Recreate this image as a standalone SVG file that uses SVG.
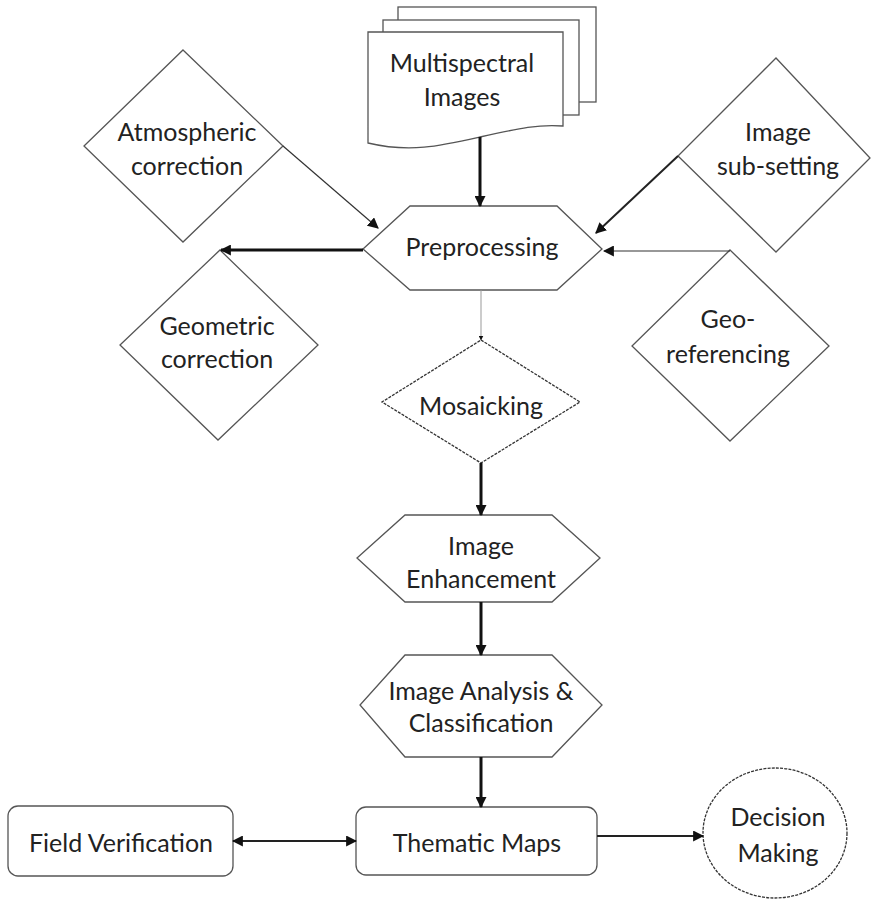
<svg xmlns="http://www.w3.org/2000/svg" width="872" height="900" viewBox="0 0 872 900">
  <defs>
    <marker id="arrow" viewBox="0 0 10 10" refX="9" refY="5" markerWidth="5" markerHeight="5" orient="auto-start-reverse" markerUnits="userSpaceOnUse">
      <path d="M0,0 L10,5 L0,10 z" fill="#111"/>
    </marker>
    <marker id="arrow-lg" viewBox="0 0 10 10" refX="9" refY="5" markerWidth="11" markerHeight="11" orient="auto-start-reverse" markerUnits="userSpaceOnUse">
      <path d="M0,0 L10,5 L0,10 z" fill="#111"/>
    </marker>
  </defs>
  <style>
    .shape { fill: #fff; stroke: #555; stroke-width: 1.3; }
    .dotted { stroke: #333; stroke-dasharray: 3 1.2; }
    .label { font-family: Lato, "Liberation Sans", sans-serif; font-size: 25px; fill: #222; text-anchor: middle; dominant-baseline: central; }
    .thick { stroke: #111; stroke-width: 3; fill: none; }
    .mid { stroke: #222; stroke-width: 2; fill: none; }
    .thin { stroke: #333; stroke-width: 1.2; fill: none; }
    .faint { stroke: #999; stroke-width: 1; fill: none; }
  </style>
  <rect width="872" height="900" fill="#fff"/>

  <!-- stacked document: multispectral input -->
  <g id="multispectral-images">
    <rect class="shape" x="398" y="7" width="198" height="95"/>
    <rect class="shape" x="383" y="20" width="196" height="95"/>
    <path class="shape" d="M368,32 H563 V126 C540,124 520,128 480,137 C440,146 410,153 368,143 Z"/>
    <text class="label" x="462" y="62">Multispectral</text>
    <text class="label" x="462" y="96">Images</text>
  </g>

  <g id="atmospheric-correction">
    <polygon class="shape" points="183,50 283,146 183,242 84,146"/>
    <text class="label" x="187" y="131">Atmospheric</text>
    <text class="label" x="187" y="165">correction</text>
  </g>

  <g id="image-sub-setting">
    <polygon class="shape" points="776,58 870,158 776,252 678,156"/>
    <text class="label" x="778" y="131">Image</text>
    <text class="label" x="778" y="165">sub-setting</text>
  </g>

  <g id="preprocessing">
    <polygon class="shape" points="410,206 557,206 602,249 557,290 410,290 363,249"/>
    <text class="label" x="482" y="246">Preprocessing</text>
  </g>

  <g id="geometric-correction">
    <polygon class="shape" points="220,250 318,345 218,440 120,345"/>
    <text class="label" x="217" y="325">Geometric</text>
    <text class="label" x="217" y="358">correction</text>
  </g>

  <g id="geo-referencing">
    <polygon class="shape" points="730,250 829,346 730,441 632,346"/>
    <text class="label" x="728" y="318">Geo-</text>
    <text class="label" x="728" y="353">referencing</text>
  </g>

  <g id="mosaicking">
    <polygon class="shape dotted" points="481,340 580,402 481,463 382,402"/>
    <text class="label" x="481" y="405">Mosaicking</text>
  </g>

  <g id="image-enhancement">
    <polygon class="shape" points="405,515 552,515 600,558 552,602 405,602 357,558"/>
    <text class="label" x="481" y="545">Image</text>
    <text class="label" x="481" y="578">Enhancement</text>
  </g>

  <g id="image-analysis">
    <polygon class="shape" points="405,655 552,655 602,705 552,757 405,757 360,705"/>
    <text class="label" x="481" y="690">Image Analysis &amp;</text>
    <text class="label" x="481" y="722">Classification</text>
  </g>

  <g id="field-verification">
    <rect class="shape" x="8" y="806" width="225" height="70" rx="10"/>
    <text class="label" x="121" y="842">Field Verification</text>
  </g>

  <g id="thematic-maps">
    <rect class="shape" x="356" y="807" width="241" height="68" rx="10"/>
    <text class="label" x="477" y="842">Thematic Maps</text>
  </g>

  <g id="decision-making">
    <ellipse class="shape dotted" cx="775" cy="833" rx="72" ry="65"/>
    <text class="label" x="778" y="816">Decision</text>
    <text class="label" x="778" y="852">Making</text>
  </g>

  <g id="connectors">
    <line class="thick" x1="480" y1="137" x2="480" y2="206" marker-end="url(#arrow-lg)"/>
    <line class="thin" x1="283" y1="146" x2="378" y2="228" marker-end="url(#arrow-lg)"/>
    <line class="thick" x1="363" y1="250" x2="221" y2="250" marker-end="url(#arrow-lg)"/>
    <line class="mid" x1="678" y1="156" x2="596" y2="233" marker-end="url(#arrow-lg)"/>
    <line class="thin" x1="730" y1="251" x2="604" y2="251" marker-end="url(#arrow-lg)"/>
    <line class="faint" x1="481" y1="290" x2="481" y2="340" marker-end="url(#arrow)"/>
    <line class="thick" x1="481" y1="463" x2="481" y2="515" marker-end="url(#arrow-lg)"/>
    <line class="thick" x1="481" y1="602" x2="481" y2="655" marker-end="url(#arrow-lg)"/>
    <line class="thick" x1="481" y1="757" x2="481" y2="807" marker-end="url(#arrow-lg)"/>
    <line class="mid" x1="233" y1="841" x2="356" y2="841" marker-start="url(#arrow-lg)" marker-end="url(#arrow-lg)"/>
    <line class="mid" x1="597" y1="836" x2="703" y2="836" marker-end="url(#arrow-lg)"/>
  </g>
</svg>
